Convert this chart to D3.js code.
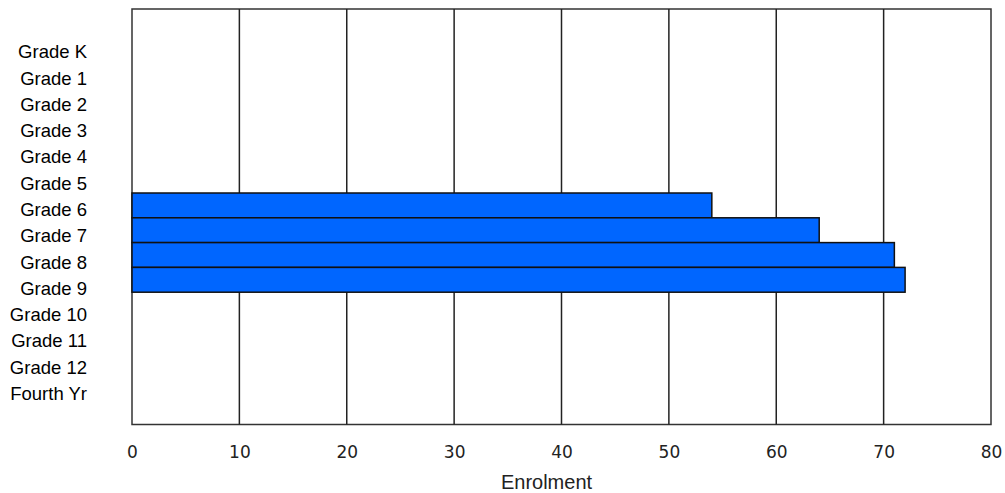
<!DOCTYPE html>
<html>
<head>
<meta charset="utf-8">
<script src="https://cdn.jsdelivr.net/npm/d3@7"></script>
<style>
  html, body { margin: 0; padding: 0; background: #fff; }
  svg { display: block; }
</style>
</head>
<body>
<div id="chart"></div>
<script>
const categories = ["Grade K","Grade 1","Grade 2","Grade 3","Grade 4","Grade 5","Grade 6","Grade 7","Grade 8","Grade 9","Grade 10","Grade 11","Grade 12","Fourth Yr"];
const enrolment = [0,0,0,0,0,0,54,64,71,72,0,0,0,0];
const xTicks = [0,10,20,30,40,50,60,70,80];
const xTitle = "Enrolment";

const W = 1005, H = 493;
const plot = {left: 132, right: 991, top: 9, bottom: 424.5};

const svg = d3.select("#chart").append("svg").attr("width", W).attr("height", H);

const x = d3.scaleLinear().domain([0, 80]).range([plot.left, plot.right]);
const y = d3.scaleBand().domain(categories).range([44.2, 391.4]).paddingInner(0).paddingOuter(0);
// label baselines (the category labels sit on a slightly wider spacing than the bars)
const yLabel = d3.scalePoint().domain(categories).range([58.3, 400]);

// frame
svg.append("rect")
  .attr("x", plot.left).attr("y", plot.top)
  .attr("width", plot.right - plot.left).attr("height", plot.bottom - plot.top)
  .attr("fill", "#fff").attr("stroke", "#333").attr("stroke-width", 1.5);

// grid lines
svg.append("g").selectAll("line")
  .data(xTicks.filter(d => d > 0 && d < 80))
  .join("line")
  .attr("x1", d => x(d)).attr("x2", d => x(d))
  .attr("y1", plot.top).attr("y2", plot.bottom)
  .attr("stroke", "#222").attr("stroke-width", 1.5);

// bars
svg.append("g").selectAll("rect")
  .data(categories.map((c, i) => ({c, v: enrolment[i]})).filter(d => d.v > 0))
  .join("rect")
  .attr("x", x(0))
  .attr("y", d => y(d.c))
  .attr("width", d => x(d.v) - x(0))
  .attr("height", y.bandwidth())
  .attr("fill", "#0066ff")
  .attr("stroke", "#111")
  .attr("stroke-width", 1.5);

// category labels
svg.append("g").selectAll("text")
  .data(categories)
  .join("text")
  .attr("x", 87)
  .attr("y", d => yLabel(d))
  .attr("text-anchor", "end")
  .attr("font-family", "Liberation Sans, Arial, sans-serif")
  .attr("font-size", 18.5)
  .attr("fill", "#000")
  .text(d => d);

// x axis labels
const xAxis = d3.axisBottom(x).tickValues(xTicks).tickSize(0).tickPadding(0).tickFormat(d3.format("d"));
const gx = svg.append("g").attr("transform", `translate(0, 458)`).call(xAxis);
gx.select(".domain").remove();
gx.selectAll("text")
  .attr("dy", 0)
  .attr("font-family", "DejaVu Sans, Verdana, sans-serif")
  .attr("font-size", 17)
  .attr("fill", "#222");

// x title
svg.append("text")
  .attr("x", 546.5)
  .attr("y", 489)
  .attr("text-anchor", "middle")
  .attr("font-family", "Liberation Sans, Arial, sans-serif")
  .attr("font-size", 20)
  .attr("fill", "#222")
  .text(xTitle);
</script>
</body>
</html>
